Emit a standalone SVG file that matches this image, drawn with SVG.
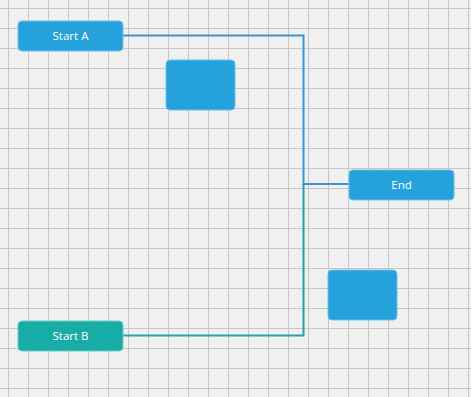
<svg xmlns="http://www.w3.org/2000/svg" width="471" height="397" viewBox="0 0 471 397">
<defs>
<pattern id="grid" x="0" y="0" width="20" height="20" patternUnits="userSpaceOnUse">
<path d="M8.5 0V20M0 8.5H20" stroke="#c6c6c6" stroke-width="1" fill="none"/>
</pattern>
</defs>
<style>
.node{stroke:#6cc0ea;stroke-width:1}
.blue{fill:#25a1dc}
.teal{fill:#17aca6;stroke:#6ccfca}
.lbl{font-family:"Open Sans","Noto Sans",sans-serif;font-size:11.5px;fill:#ffffff;text-anchor:middle;dominant-baseline:central}
.conn{fill:none;stroke-width:2}
</style>
<rect width="471" height="397" fill="#f0f0f0"/>
<rect width="471" height="397" fill="url(#grid)"/>
<g id="connectors">
<path class="conn" d="M123 35.5H303.5V184H349" stroke="#3e93d3"/>
<path class="conn" d="M123 335.5H303.5V184" stroke="#2c9ea6"/>
</g>
<g id="startA"><rect class="node blue" x="18" y="21" width="105" height="30" rx="4"/><text class="lbl" x="70.5" y="35.5">Start A</text></g>
<g id="box1"><rect class="node blue" x="166" y="60" width="69" height="50" rx="4"/></g>
<g id="end"><rect class="node blue" x="349" y="170" width="105" height="30" rx="4"/><text class="lbl" x="401.5" y="184.5">End</text></g>
<g id="box2"><rect class="node blue" x="328" y="270" width="69" height="50" rx="4"/></g>
<g id="startB"><rect class="node teal" x="18" y="321" width="105" height="30" rx="4"/><text class="lbl" x="70.5" y="335.5">Start B</text></g>
</svg>
